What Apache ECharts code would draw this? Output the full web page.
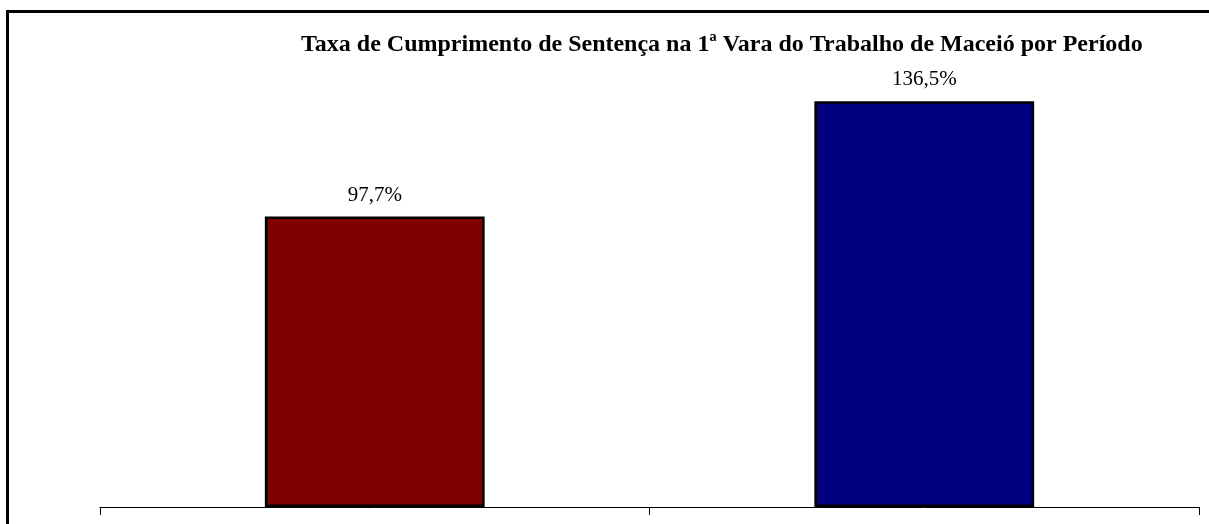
<html>
<head>
    <meta charset="utf-8">
    <title>Taxa de Cumprimento de Sentença</title>
    <script src="https://cdn.jsdelivr.net/npm/echarts@6/dist/echarts.min.js"></script>
    <style>
        body { margin: 0; background: #fff; }
    </style>
</head>
<body>

<div id="main" style="width: 1209px;height:524px;"></div>

<script type="text/javascript">
    // dados do gráfico
    var periodos = ['Período 1', 'Período 2'];
    var taxas = [97.7, 136.5];
    var cores = ['#800000', '#000080'];

    var myChart = echarts.init(document.getElementById('main'));

    var option = {
        animation: false,
        title: {
            text: 'Taxa de Cumprimento de Sentença na 1ª Vara do Trabalho de Maceió por Período',
            left: 296,
            top: 28,
            textStyle: {
                fontFamily: 'Liberation Serif',
                fontWeight: 'bold',
                fontSize: 24,
                color: '#000'
            }
        },
        // moldura (só borda esquerda e superior aparecem)
        graphic: [{
            type: 'rect',
            shape: { x: 7.5, y: 11.5, width: 1300, height: 600 },
            style: { fill: 'none', stroke: '#000', lineWidth: 3 }
        }],
        grid: {
            left: 100,
            right: 10,
            top: 61,
            bottom: 17
        },
        xAxis: {
            type: 'category',
            data: periodos,
            axisLine: { lineStyle: { color: '#000', width: 1 } },
            axisTick: { show: true, length: 8, lineStyle: { color: '#000' } },
            axisLabel: { show: false }
        },
        yAxis: {
            type: 'value',
            min: 0,
            max: 150,
            show: false
        },
        series: [{
            type: 'bar',
            barWidth: '40%',
            data: taxas.map(function (v, i) {
                return { value: v, itemStyle: { color: cores[i] } };
            }),
            itemStyle: { borderColor: '#000', borderWidth: 2.5 },
            label: {
                show: true,
                position: 'top',
                distance: 11,
                fontFamily: 'Liberation Serif',
                fontSize: 21,
                color: '#000',
                formatter: function (p) {
                    return p.value.toFixed(1).replace('.', ',') + '%';
                }
            }
        }]
    };

    myChart.setOption(option);
</script>
</body>
</html>
